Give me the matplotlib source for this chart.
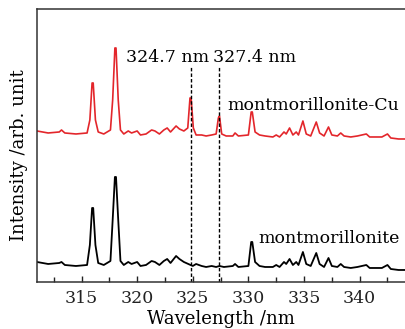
import numpy as np
import matplotlib
matplotlib.use('Agg')
import matplotlib.pyplot as plt
from matplotlib.ticker import MultipleLocator

plt.rcParams['font.family'] = 'DejaVu Serif'
plt.rcParams['mathtext.fontset'] = 'dejavuserif'

# spectra (wavelength in nm, intensity in arb. unit)
wl_cu = [311.0, 312.0, 313.0, 313.2, 313.5, 314.5, 315.5, 315.75, 315.95, 316.05,
         316.25, 316.5, 317.0, 317.3, 317.6, 317.8, 318.0, 318.1, 318.3, 318.5,
         318.8, 319.2, 319.5, 320.0, 320.3, 320.8, 321.3, 321.6, 322.0, 322.4,
         322.7, 323.0, 323.5, 323.8, 324.2, 324.55, 324.75, 324.85, 325.05, 325.3,
         325.8, 326.2, 326.7, 327.1, 327.3, 327.4, 327.6, 328.0, 328.6, 328.8,
         329.1, 330.0, 330.25, 330.35, 330.6, 331.0, 331.5, 332.2, 332.5, 332.8,
         333.2, 333.4, 333.7, 334.0, 334.3, 334.5, 334.9, 335.2, 335.6, 336.1,
         336.4, 336.8, 337.2, 337.5, 338.0, 338.3, 338.6, 339.2, 339.8, 340.6,
         340.9, 341.4, 342.0, 342.5, 342.8, 343.5, 344.2]
int_cu = [151, 149, 150, 152, 149, 148, 149, 162, 199, 199,
          162, 150, 148, 150, 152, 182, 234, 234, 182, 152,
          148, 151, 149, 151, 147, 148, 152, 151, 148, 152,
          154, 150, 156, 153, 151, 154, 184, 184, 154, 147,
          147, 146, 147, 148, 164, 166, 148, 146, 146, 149,
          146, 147, 170, 170, 150, 147, 146, 145, 147, 145,
          150, 148, 154, 147, 150, 147, 161, 148, 146, 160,
          149, 146, 155, 147, 146, 149, 146, 145, 146, 148,
          145, 145, 145, 148, 144, 143, 143]

wl_mt = [311.0, 312.0, 313.0, 313.2, 313.5, 314.5, 315.5, 315.75, 315.95, 316.05,
         316.25, 316.5, 317.0, 317.3, 317.6, 317.8, 318.0, 318.1, 318.3, 318.5,
         318.8, 319.2, 319.5, 320.0, 320.3, 320.8, 321.3, 321.6, 322.0, 322.4,
         322.7, 323.0, 323.5, 323.8, 324.2, 324.6, 325.0, 325.3, 325.8, 326.2,
         326.7, 327.1, 327.4, 327.8, 328.6, 328.8, 329.1, 330.0, 330.25, 330.35,
         330.6, 331.0, 331.5, 332.2, 332.5, 332.8, 333.2, 333.4, 333.7, 334.0,
         334.3, 334.5, 334.9, 335.2, 335.6, 336.1, 336.4, 336.8, 337.2, 337.5,
         338.0, 338.3, 338.6, 339.2, 339.8, 340.6, 340.9, 341.4, 342.0, 342.5,
         342.8, 343.5, 344.2]
int_mt = [20, 18, 19, 20, 17, 16, 17, 37, 74, 74,
          37, 19, 17, 19, 21, 62, 105, 105, 62, 21,
          17, 20, 18, 20, 16, 17, 21, 20, 17, 21,
          23, 19, 26, 23, 20, 18, 16, 18, 16, 15,
          16, 15, 16, 15, 16, 18, 15, 16, 40, 40,
          20, 16, 15, 15, 17, 15, 20, 18, 23, 17,
          20, 17, 30, 18, 16, 29, 18, 15, 24, 16,
          15, 18, 15, 14, 15, 17, 14, 14, 14, 17,
          13, 12, 12]

cu_lines = [324.8, 327.4]
cu_labels = ['324.7 nm', '327.4 nm']

fig = plt.figure(figsize=(4.05, 3.29), dpi=100)
ax = fig.add_axes([0.0914, 0.1429, 0.912, 0.8298])

ax.plot(wl_cu, int_cu, color='#e3262b', lw=1.2)
ax.plot(wl_mt, int_mt, color='black', lw=1.3)

for x in cu_lines:
    ax.plot([x, x], [0, 215], color='black', lw=1.0, linestyle=(0, (2.5, 1.5)))

ax.text(319.0, 220, cu_labels[0], fontsize=12.5, ha='left', va='baseline')
ax.text(326.8, 220, cu_labels[1], fontsize=12.5, ha='left', va='baseline')
ax.text(328.1, 172, 'montmorillonite-Cu', fontsize=12.5, ha='left', va='baseline')
ax.text(330.9, 39, 'montmorillonite', fontsize=12.5, ha='left', va='baseline')

ax.set_xlim(311, 344.2)
ax.set_ylim(0, 273)
ax.set_yticks([])
ax.xaxis.set_major_locator(MultipleLocator(5))
ax.xaxis.set_minor_locator(MultipleLocator(2.5))
ax.tick_params(axis='x', which='both', direction='in', labelsize=12.5, pad=6,
               top=False, colors='#222222')
ax.tick_params(axis='x', which='major', length=4.5, width=1)
ax.tick_params(axis='x', which='minor', length=3.5, width=1)
for s in ax.spines.values():
    s.set_linewidth(1.1)
    s.set_color('#333333')

ax.set_xlabel('Wavelength /nm', fontsize=13)
ax.xaxis.set_label_coords(0.498, -0.103)
ax.set_ylabel('Intensity /arb. unit', fontsize=13)
ax.yaxis.set_label_coords(-0.025, 0.465)

plt.savefig('out.png', dpi=100)
